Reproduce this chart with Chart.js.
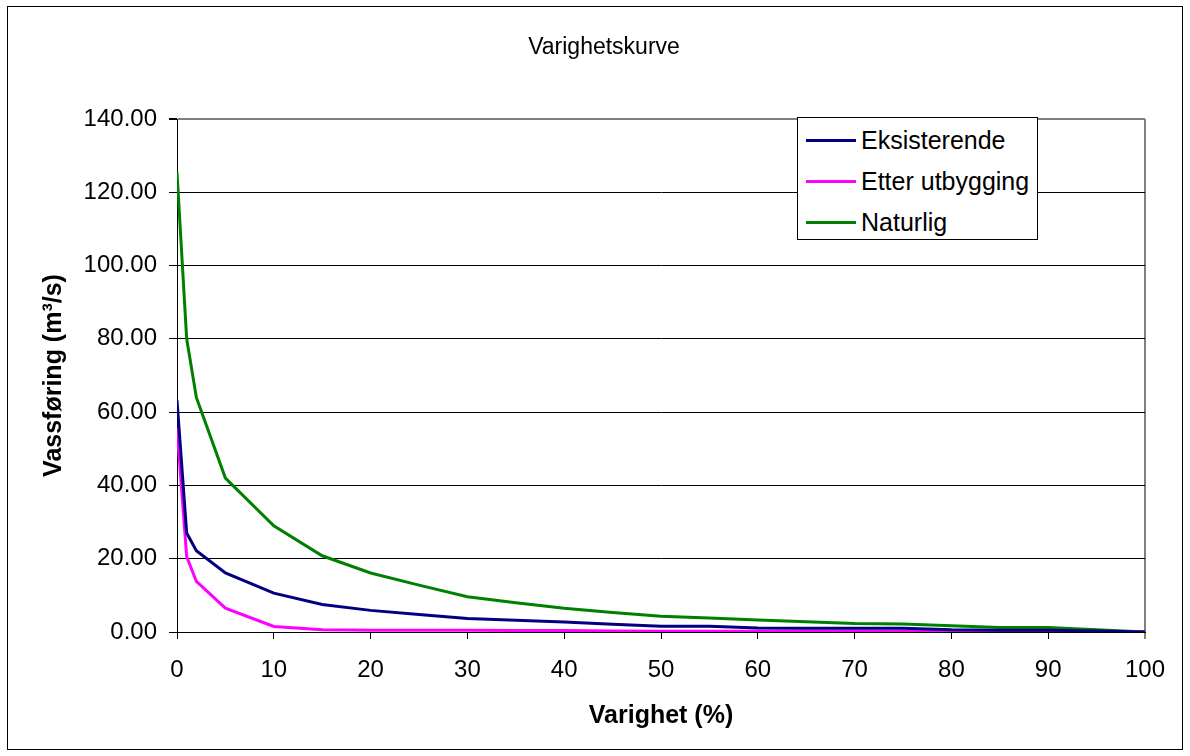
<!DOCTYPE html>
<html>
<head>
<meta charset="utf-8">
<script src="https://cdn.jsdelivr.net/npm/chart.js@4"></script>
<style>
  body { margin: 0; background: #fff; font-family: "Liberation Sans", Arial, sans-serif; }
  #wrap { position: relative; width: 1190px; height: 756px; }
  #frame { position: absolute; left: 7px; top: 6px; width: 1174px; height: 742px; border: 1px solid #000; }
  #title { position: absolute; left: 604px; top: 46px; transform: translate(-50%, -50%); font-size: 23px; color: #000; white-space: nowrap; }
  #legend { position: absolute; left: 797px; top: 117px; width: 239px; height: 121px; border: 1px solid #000; background: #fff; }
  .item { position: absolute; left: 0; height: 30px; }
  .item span.line { position: absolute; left: 8px; width: 50px; height: 3px; top: 14px; }
  .item span.txt { position: absolute; left: 63px; top: 1px; font-size: 25px; line-height: 29px; white-space: nowrap; }
  canvas { position: absolute; left: 0; top: 0; }
</style>
</head>
<body>
<div id="wrap">
  <div id="frame"></div>
  <canvas id="c" width="1190" height="756"></canvas>
  <div id="title">Varighetskurve</div>
  <div id="legend"></div>
</div>
<script>
// duration (% of time exceeded)
const varighet = [0, 1, 2, 5, 10, 15, 20, 25, 30, 35, 40, 45, 50, 55, 60, 65, 70, 75, 80, 85, 90, 95, 100];

// flow, m3/s
const eksisterende = [63.2, 27.0, 22.2, 16.1, 10.6, 7.5, 5.9, 4.8, 3.7, 3.2, 2.7, 2.1, 1.6, 1.6, 1.1, 1.0, 1.0, 1.0, 0.6, 0.5, 0.5, 0.3, 0];
const etterUtbygging = [55.7, 20.6, 13.8, 6.5, 1.5, 0.6, 0.5, 0.5, 0.5, 0.4, 0.4, 0.3, 0.2, 0.2, 0.2, 0.2, 0.2, 0.2, 0.2, 0.2, 0.2, 0.1, 0];
const naturlig = [125.4, 80.0, 64.0, 42.0, 29.0, 20.8, 16.1, 12.8, 9.6, 8.0, 6.5, 5.3, 4.3, 3.8, 3.3, 2.8, 2.3, 2.2, 1.7, 1.2, 1.2, 0.6, 0];

const seriesNames = ['Eksisterende', 'Etter utbygging', 'Naturlig'];
const seriesColors = ['#000080', '#ff00ff', '#008000'];
const yTicks = [0, 20, 40, 60, 80, 100, 120, 140];
const xTicks = [0, 10, 20, 30, 40, 50, 60, 70, 80, 90, 100];

const font = "'Liberation Sans', Arial, sans-serif";

function toPoints(ys) {
  return varighet.map((x, i) => ({ x, y: ys[i] }));
}

const datasets = [eksisterende, etterUtbygging, naturlig].map((ys, i) => ({
  label: seriesNames[i],
  data: toPoints(ys),
  borderColor: seriesColors[i],
  backgroundColor: seriesColors[i],
  borderWidth: 3,
  pointRadius: 0,
  showLine: true,
  tension: 0,
  fill: false,
}));
// green underneath, then pink, blue on top
datasets.forEach((d, i) => { d.order = i === 2 ? 3 : (i === 0 ? 1 : 2); });

// html legend
const legend = document.getElementById('legend');
seriesNames.forEach((name, i) => {
  const row = document.createElement('div');
  row.className = 'item';
  row.style.top = (7 + i * 41) + 'px';
  row.innerHTML = `<span class="line" style="background:${seriesColors[i]}"></span><span class="txt">${name}</span>`;
  legend.appendChild(row);
});

new Chart(document.getElementById('c'), {
  type: 'scatter',
  data: { datasets },
  options: {
    responsive: false,
    animation: false,
    layout: { padding: { left: 10, top: 119, right: 45, bottom: 10 } },
    plugins: { legend: { display: false }, tooltip: { enabled: false } },
    scales: {
      x: {
        type: 'linear',
        min: 0,
        max: 100,
        afterBuildTicks: s => { s.ticks = xTicks.map(v => ({ value: v })); },
        afterFit: s => { s.height = 114; },
        ticks: { color: '#000', font: { family: font, size: 24 }, padding: 17, maxRotation: 0 },
        grid: {
          color: c => (c.tick && c.tick.value === 100 ? '#808080' : 'rgba(0,0,0,0)'),
          tickColor: c => (c.tick && c.tick.value === 100 ? '#808080' : '#000'),
          lineWidth: c => (c.tick && c.tick.value === 100 ? 2 : 1),
          tickLength: 7,
        },
        border: { color: '#000', width: 1 },
        title: { display: true, text: 'Varighet (%)', color: '#000', font: { family: font, size: 25, weight: 'bold' }, padding: { top: 0, bottom: 15 } },
      },
      y: {
        min: 0,
        max: 140,
        afterBuildTicks: s => { s.ticks = yTicks.map(v => ({ value: v })); },
        afterFit: s => { s.width = 167; },
        ticks: { color: '#000', font: { family: font, size: 24 }, padding: 12, callback: v => Number(v).toFixed(2) },
        grid: {
          color: c => (c.tick && c.tick.value === 140 ? '#808080' : '#000'),
          lineWidth: c => (c.tick && c.tick.value === 140 ? 2 : 1),
          tickColor: '#000',
          tickLength: 8,
        },
        border: { color: '#000', width: 1 },
        title: { display: true, text: 'Vassføring (m³/s)', color: '#000', font: { family: font, size: 25, weight: 'bold' }, padding: { top: 29, bottom: 0 } },
      },
    },
  },
});
</script>
</body>
</html>
